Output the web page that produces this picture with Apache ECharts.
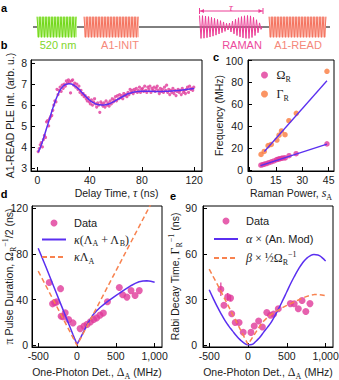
<!DOCTYPE html>
<html>
<head>
<meta charset="utf-8">
<script src="https://cdn.jsdelivr.net/npm/echarts@6/dist/echarts.min.js"></script>
<style>
  html, body { margin: 0; padding: 0; background: #fff; }
  #chart { width: 339px; height: 380px; }
</style>
</head>
<body>
<div id="chart"></div>
<script>
// ---- panel b: A1-READ PLE vs delay time (tau sweep starts at 0.5 ns, 0.8 ns steps)
const TAU_START = 0.5, TAU_STEP = 0.8
const pleValues = [
  3.78, 3.92, 4.1, 4.2, 4.0, 4.35, 4.55, 4.45, 5.2, 5.25, 5.0, 5.35, 5.45, 5.5, 5.75, 6.0, 6.2, 6.15, 6.75, 6.5,
  6.7, 6.85, 6.65, 6.95, 6.8, 7.0, 6.9, 7.15, 7.05, 7.2, 7.1, 6.58, 7.15, 7.2, 6.95, 7.05, 6.85, 7.0, 6.75, 6.9,
  6.6, 6.7, 6.5, 6.55, 6.4, 6.45, 6.3, 6.2, 6.35, 6.15, 6.05, 6.25, 6.0, 6.15, 6.3, 6.05, 5.9, 6.1, 6.0, 5.65,
  6.15, 6.05, 5.95, 6.1, 5.9, 6.2, 6.0, 6.1, 5.95, 6.2, 6.05, 6.3, 6.15, 6.25, 6.4, 6.2, 6.45, 6.3, 6.5, 6.35,
  6.45, 6.3, 6.55, 6.45, 6.5, 6.4, 6.6, 6.5, 6.75, 6.6, 6.7, 6.55, 6.75, 6.65, 6.8, 6.6, 6.7, 6.85, 6.6, 6.75,
  6.8, 6.65, 6.9, 6.7, 6.6, 6.85, 6.75, 6.9, 6.6, 6.8, 6.7, 6.85, 6.65, 6.8, 6.9, 6.7, 6.55, 6.8, 6.65, 6.75,
  6.6, 6.85, 6.7, 6.95, 6.6, 6.75, 6.5, 6.7, 6.6, 6.8, 6.55, 6.7, 6.45, 6.65, 6.75, 6.6, 6.7, 6.5, 6.8, 6.6,
  6.7, 6.55, 6.75, 6.85, 6.6, 6.9, 6.75, 6.8, 6.7, 6.85
]
const fitTau = [0.5, 2, 4, 6, 8, 10, 12, 14, 16, 18, 20, 22, 24, 26, 28, 30, 32, 34, 36, 38, 40, 42, 44, 46, 48, 50,
  52, 54, 56, 58, 60, 62, 64, 66, 68, 70, 72, 74, 76, 78, 80, 85, 90, 95, 100, 105, 110, 115, 120]
const fitPLE = [3.75, 3.95, 4.3, 4.7, 5.1, 5.5, 5.9, 6.25, 6.55, 6.78, 6.92, 6.99, 7.02, 7.0, 6.94, 6.85, 6.74, 6.6,
  6.47, 6.34, 6.23, 6.14, 6.07, 6.03, 6.01, 6.0, 6.01, 6.04, 6.09, 6.15, 6.22, 6.29, 6.36, 6.43, 6.5, 6.55, 6.59,
  6.62, 6.64, 6.65, 6.66, 6.66, 6.65, 6.65, 6.66, 6.68, 6.71, 6.75, 6.79]

// ---- panel c: frequencies vs Raman power
const omegaPower = [6.5, 7.5, 8.5, 9.7, 11, 12.4, 13.9, 15.4, 16.3, 17.2, 18.2, 19.2, 20.3, 22.5, 26.5, 44]
const omegaFreq = [4.3, 4.8, 5.3, 5.8, 6.6, 7.4, 8.2, 9.3, 9.8, 10.2, 10.6, 10.9, 11.0, 13.0, 14.8, 23.8]
const gammaPower = [6.6, 8.4, 10.6, 12.4, 15.6, 16.8, 18.2, 20.2, 22.4, 26.6, 44]
const gammaFreq = [14.2, 16.9, 22.2, 23.3, 27.3, 31.7, 35.6, 32.2, 45, 51.7, 90.2]
const omegaFitX = [6.3, 44], omegaFitY = [3.9, 23.6]
const gammaFitX = [8.5, 44], gammaFitY = [16.8, 81.5]

// ---- panel d: pi pulse duration vs one-photon detuning
const dDet = [-358, -315, -288, -262, -212, -205, -180, -152, -108, -52, 40, 90, 130, 172, 215, 252, 296, 340, 392,
  545, 588, 643, 696, 748, 802]
const dPulse = [55, 36.3, 37.3, 38, 49.6, 25.5, 25, 28.4, 22.5, 19.6, 14.6, 16.8, 18.3, 20.5, 22.6, 24, 26.4, 28.2,
  38.2, 50.6, 44.3, 42.2, 47.9, 43.6, 47.9]
const dSumX = [-500, -400, -300, -200, -100, -50, 0, 50, 100, 150, 200, 250, 300, 350, 400, 450, 500, 550, 600, 650,
  700, 750, 800, 850, 900, 950, 1000]
const dSumY = [85, 68.5, 51.5, 34.5, 17.5, 9, 0.8, 7.2, 14, 20.5, 26, 30, 33.3, 36, 38.6, 41, 43.4, 45.8, 48, 50.3,
  52.4, 54.2, 55.6, 56.4, 56.6, 56.1, 55.3]
const dAX = [-500, 0, 950]
const dAY = [65, 0, 123.5]

// ---- panel e: Rabi decay time vs one-photon detuning
const eDet = [-350, -310, -262, -225, -210, -165, -115, -62, 38, 80, 137, 185, 242, 290, 330, 390, 546, 595, 648,
  696, 745, 798]
const eDecay = [36.8, 26.3, 31.8, 31, 20.7, 15, 15, 8.6, 8.5, 12.7, 16, 12, 21.5, 19.7, 20.6, 24, 27.4, 27.3, 24,
  29.4, 22.2, 27.4]
const eErr = [4.4, 0, 2.5, 2, 0, 0, 0, 0, 0, 0, 0, 0, 0, 0, 0, 0, 0, 0, 0, 0, 0, 0]
const eModX = [-500, -450, -400, -350, -300, -250, -200, -150, -100, -50, 0, 50, 100, 150, 200, 250, 300, 350, 400,
  450, 500, 550, 600, 650, 700, 750, 800, 850, 900, 950, 1000]
const eModY = [36.5, 31, 25.8, 21, 16.6, 12.8, 9.5, 6.3, 3.6, 1.5, 0.4, 0.6, 2.5, 5.2, 8.5, 11.8, 15.3, 19.8, 24.6,
  29.8, 35.2, 40.6, 45.5, 50, 53.9, 56.9, 58.8, 59.6, 59.3, 57.8, 55.3]
const eBetaX = [-500, -400, -300, -200, -100, -50, 0, 50, 100, 150, 200, 250, 300, 350, 400, 450, 500, 550, 600, 650,
  700, 750, 800, 850, 900, 950, 1000]
const eBetaY = [50, 40.5, 30.5, 20.5, 10.5, 5.5, 0.6, 4.6, 8.5, 12.5, 15.8, 18.3, 20.3, 22, 23.5, 24.9, 26.2, 27.4,
  28.6, 29.8, 31, 32, 32.8, 33.3, 33.4, 33.1, 32.6]

const MAGENTA = '#e0399a'
const ORANGE = '#fa7b3d'
const BLUE = '#5a2ff0'
const DASH = '#f8824f'
const SANS = '"Liberation Sans", Arial, sans-serif'
const SERIF = '"Liberation Serif", "DejaVu Serif", serif'

const RICH = {
  m: { fontFamily: SERIF, fontSize: 12, lineHeight: 16 },
  i: { fontFamily: SERIF, fontSize: 12, fontStyle: 'italic', lineHeight: 16 },
  sub: { fontFamily: SERIF, fontSize: 8, lineHeight: 8, verticalAlign: 'bottom' },
  sup: { fontFamily: SERIF, fontSize: 8, lineHeight: 8, verticalAlign: 'top' }
}

const LEGEND_TEXT = {
  'ΩR': '{m|Ω}{sub|R}',
  'ΓR': '{m|Γ}{sub|R}',
  'Data': 'Data',
  'κ(ΛA + ΛB)': '{i|κ}{m|(Λ}{sub|A}{m| + Λ}{sub|B}{m|)}',
  'κΛA': '{i|κ}{m|Λ}{sub|A}',
  'α × (An. Mod)': '{i|α}{m| × }(An. Mod)',
  'β × ½ΩR−1': '{i|β}{m| × ½Ω}{sub|R}{sup|−1}'
}

const pts = (xs, ys) => xs.map((x, i) => [x, ys[i]])

function axis(gridIndex, min, max, ticks, margin, name, nameGap) {
  return {
    type: 'value', gridIndex, min, max, name, nameLocation: 'middle', nameGap, nameMoveOverlap: false,
    nameTextStyle: { fontFamily: SANS, fontSize: 10.5, color: '#1a1a1a', lineHeight: 16, rich: RICH },
    axisLine: { show: true, onZero: false, lineStyle: { color: '#000', width: 1 } },
    axisTick: { show: true, inside: true, length: 4, customValues: ticks, lineStyle: { color: '#000', width: 1 } },
    axisLabel: { customValues: ticks, margin, fontFamily: SANS, fontSize: 10.5, color: '#1a1a1a' },
    splitLine: { show: false }
  }
}

function legend(names, left, top, itemWidth, itemGap) {
  return {
    data: names.map(n => n.startsWith('κ') || n.startsWith('α') || n.startsWith('β')
      ? { name: n, itemStyle: { opacity: 0 } } : n),
    orient: 'vertical', left, top, itemWidth, itemHeight: 7, itemGap, padding: 0,
    selectedMode: false,
    formatter: n => LEGEND_TEXT[n],
    textStyle: { fontFamily: SANS, fontSize: 11, color: '#1a1a1a', lineHeight: 14, padding: [0, 0, 0, 3], rich: RICH }
  }
}

// ---- panel a: pulse sequence sketch
const BASE_Y = 27
function stripes(x0, x1, amp, step) {
  const out = []
  let up = true
  for (let x = x0; x <= x1; x += step) {
    out.push([x, BASE_Y + (up ? -amp(x) : amp(x))])
    up = !up
  }
  return out
}
const flat = a => () => a
// raman envelope: two lobes with a waist in the middle
const ramanEnv = x => {
  if (x < 228) return 3 + 8.5 * Math.cos((x - 199) / 29 * Math.PI / 2)
  if (x < 248) return 3 + 8.5 * Math.sin((x - 228) / 20 * Math.PI / 2)
  return 11.5 * Math.cos((x - 248) / 15 * Math.PI / 2)
}
function block(x0, x1, light, dark) {
  return [
    { type: 'rect', shape: { x: x0, y: BASE_Y - 10.3, width: x1 - x0, height: 20.6 }, style: { fill: light } },
    { type: 'polyline', shape: { points: stripes(x0, x1, flat(10.3), 1.5) }, style: { stroke: dark, lineWidth: 1, fill: null } }
  ]
}
function label(text, x, y, color, font) {
  return {
    type: 'text', x, y,
    style: { text, fill: color, fontFamily: font || SANS, fontSize: 11, align: 'center', verticalAlign: 'middle',
      textAlign: 'center', textVerticalAlign: 'middle' }
  }
}
const PINK = '#ec3d95'
const tau = label('τ', 231, 6.5, PINK, SERIF)
tau.style.fontStyle = 'italic'
const sketch = [
  { type: 'line', shape: { x1: 33, y1: BASE_Y, x2: 330, y2: BASE_Y }, style: { stroke: '#000', lineWidth: 1 } },
  ...block(37, 77, '#c2f294', '#72d81a'),
  ...block(84, 139, '#fcc0b6', '#f4735f'),
  ...block(269, 326, '#fcc0b6', '#f4735f'),
  { type: 'polyline', shape: { points: stripes(199.5, 263, ramanEnv, 1.5) }, style: { stroke: PINK, lineWidth: 1, fill: null } },
  { type: 'line', shape: { x1: 199.5, y1: 11, x2: 263, y2: 11 }, style: { stroke: PINK, lineWidth: 1 } },
  { type: 'line', shape: { x1: 199.5, y1: 8, x2: 199.5, y2: 14 }, style: { stroke: PINK, lineWidth: 1 } },
  { type: 'line', shape: { x1: 263, y1: 8, x2: 263, y2: 14 }, style: { stroke: PINK, lineWidth: 1 } },
  { type: 'polygon', shape: { points: [[200, 11], [204, 9], [204, 13]] }, style: { fill: PINK } },
  { type: 'polygon', shape: { points: [[262.5, 11], [258.5, 9], [258.5, 13]] }, style: { fill: PINK } },
  tau,
  label('520 nm', 58, 44.5, '#7fd62a'),
  label('A1-INIT', 120, 44.5, '#f5887a'),
  label('RAMAN', 242, 44.5, '#ec4a9c'),
  label('A1-READ', 298, 44.5, '#f5887a')
]
const letters = [['a', 4, 8], ['b', 4, 45], ['c', 216, 57], ['d', 4, 194], ['e', 173, 196]].map(([t, x, y]) =>
  ({ type: 'text', x, y, style: { text: t, fill: '#000', fontFamily: SANS, fontSize: 11, fontWeight: 'bold',
    align: 'center', verticalAlign: 'middle', textAlign: 'center', textVerticalAlign: 'middle' } }))

const chart = echarts.init(document.getElementById('chart'), null, { renderer: 'svg' })

chart.setOption({
  animation: false,
  backgroundColor: '#fff',
  textStyle: { fontFamily: SANS },
  grid: [
    { left: 31, top: 60, width: 171, height: 111, show: true, borderColor: '#000', borderWidth: 1, outerBoundsMode: 'none' },
    { left: 248, top: 60, width: 86, height: 111, show: true, borderColor: '#000', borderWidth: 1, outerBoundsMode: 'none' },
    { left: 32, top: 206, width: 130, height: 141, show: true, borderColor: '#000', borderWidth: 1, outerBoundsMode: 'none' },
    { left: 203, top: 206, width: 130, height: 141, show: true, borderColor: '#000', borderWidth: 1, outerBoundsMode: 'none' }
  ],
  xAxis: [
    axis(0, -5, 126, [0, 40, 80, 120], 3, 'Delay Time, {i|τ} (ns)', 14),
    axis(1, -0.8, 48, [0, 15, 30, 45], 3, 'Raman Power, {i|s}{sub|A}', 14),
    axis(2, -580, 1095, [-500, 0, 500, 1000], 3, 'One-Photon Det., {m|Δ}{sub|A} (MHz)', 17),
    axis(3, -580, 1095, [-500, 0, 500, 1000], 3, 'One-Photon Det., {m|Δ}{sub|A} (MHz)', 17)
  ],
  yAxis: [
    axis(0, 2.85, 8.15, [3, 4, 5, 6, 7, 8], 4, 'A1-READ PLE Int. (arb. u.)', 13),
    axis(1, -1, 100.5, [0, 20, 40, 60, 80, 100], 5, 'Frequency (MHz)', 21),
    axis(2, -1.5, 122, [0, 40, 80, 120], 4, '{m|π} Pulse Duration, {m|Ω}{sub|R}{sup|−1}/2 (ns)', 15),
    axis(3, -1.1, 91.5, [0, 30, 60, 90], 6, 'Rabi Decay Time, {m|Γ}{sub|R}{sup|−1} (ns)', 20)
  ],
  legend: [
    legend(['ΩR', 'ΓR'], 261, 67, 8, 3),
    legend(['Data', 'κ(ΛA + ΛB)', 'κΛA'], 41, 216, 24, 1.5),
    legend(['Data', 'α × (An. Mod)', 'β × ½ΩR−1'], 213, 214, 24, 3)
  ],
  graphic: { elements: [...sketch, ...letters] },
  series: [
    // b
    { name: 'PLE', type: 'scatter', xAxisIndex: 0, yAxisIndex: 0, symbolSize: 3.2,
      itemStyle: { color: MAGENTA },
      data: pleValues.map((v, i) => [TAU_START + i * TAU_STEP, v]) },
    { name: 'PLE fit', type: 'line', xAxisIndex: 0, yAxisIndex: 0, symbol: 'none', smooth: true,
      lineStyle: { color: BLUE, width: 1.5 }, data: pts(fitTau, fitPLE) },
    // c
    { name: 'ΩR', type: 'scatter', xAxisIndex: 1, yAxisIndex: 1, symbolSize: 5.5,
      itemStyle: { color: MAGENTA }, data: pts(omegaPower, omegaFreq) },
    { name: 'ΓR', type: 'scatter', xAxisIndex: 1, yAxisIndex: 1, symbolSize: 5.5,
      itemStyle: { color: ORANGE }, data: pts(gammaPower, gammaFreq) },
    { name: 'ΩR fit', type: 'line', xAxisIndex: 1, yAxisIndex: 1, symbol: 'none',
      lineStyle: { color: BLUE, width: 1.3 }, data: pts(omegaFitX, omegaFitY) },
    { name: 'ΓR fit', type: 'line', xAxisIndex: 1, yAxisIndex: 1, symbol: 'none',
      lineStyle: { color: BLUE, width: 1.3 }, data: pts(gammaFitX, gammaFitY) },
    // d
    { name: 'Data', type: 'scatter', xAxisIndex: 2, yAxisIndex: 2, symbolSize: 7,
      itemStyle: { color: MAGENTA }, data: pts(dDet, dPulse) },
    { name: 'κ(ΛA + ΛB)', type: 'line', xAxisIndex: 2, yAxisIndex: 2, symbol: 'none',
      lineStyle: { color: BLUE, width: 1.5 }, itemStyle: { color: BLUE }, data: pts(dSumX, dSumY) },
    { name: 'κΛA', type: 'line', xAxisIndex: 2, yAxisIndex: 2, symbol: 'none', clip: true,
      lineStyle: { color: DASH, width: 1.5, type: [5, 3] }, itemStyle: { color: DASH }, data: pts(dAX, dAY) },
    // e
    { name: 'e err', type: 'custom', xAxisIndex: 3, yAxisIndex: 3,
      data: eDet.map((x, i) => [x, eDecay[i] - eErr[i], eDecay[i] + eErr[i]]).filter(d => d[2] > d[1]),
      renderItem: (params, api) => {
        const lo = api.coord([api.value(0), api.value(1)])
        const hi = api.coord([api.value(0), api.value(2)])
        return { type: 'line', shape: { x1: lo[0], y1: lo[1], x2: hi[0], y2: hi[1] },
          style: { stroke: MAGENTA, lineWidth: 1.2 } }
      } },
    { name: 'Data', type: 'scatter', xAxisIndex: 3, yAxisIndex: 3, symbolSize: 7,
      itemStyle: { color: MAGENTA }, data: pts(eDet, eDecay) },
    { name: 'α × (An. Mod)', type: 'line', xAxisIndex: 3, yAxisIndex: 3, symbol: 'none', smooth: true,
      lineStyle: { color: BLUE, width: 1.5 }, itemStyle: { color: BLUE }, data: pts(eModX, eModY) },
    { name: 'β × ½ΩR−1', type: 'line', xAxisIndex: 3, yAxisIndex: 3, symbol: 'none',
      lineStyle: { color: DASH, width: 1.5, type: [5, 3] }, itemStyle: { color: DASH }, data: pts(eBetaX, eBetaY) }
  ]
})
</script>
</body>
</html>
